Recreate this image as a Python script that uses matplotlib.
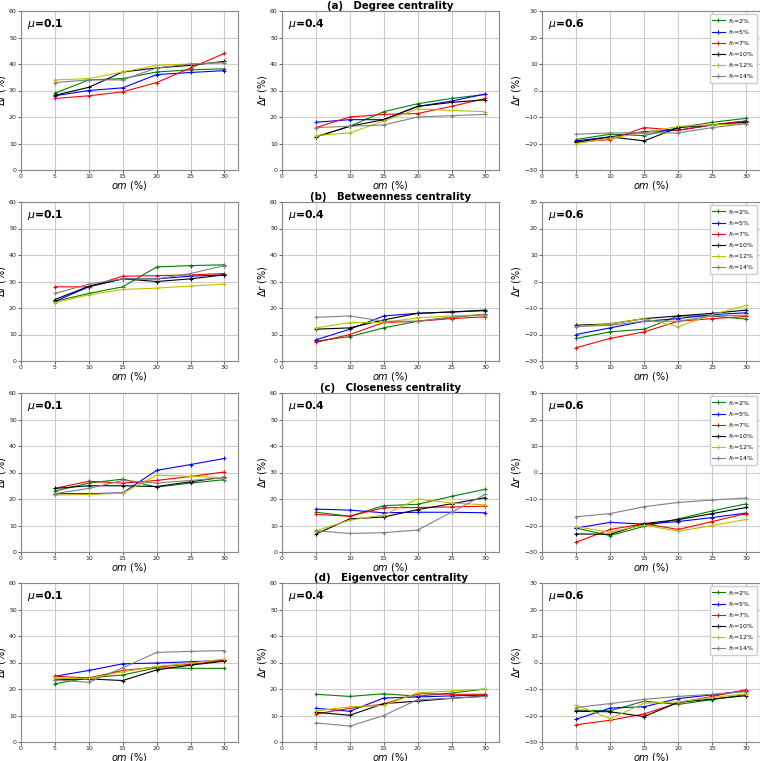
import matplotlib
matplotlib.use("Agg")
import matplotlib.pyplot as plt

om = [5, 10, 15, 20, 25, 30]
labels = [r"$f_0$=2%", r"$f_0$=5%", r"$f_0$=7%", r"$f_0$=10%", r"$f_0$=12%", r"$f_0$=14%"]
colors = ["green", "blue", "red", "black", "y", "gray"]
mus = ["0.1", "0.4", "0.6"]
titles = ["(a)   Degree centrality", "(b)   Betweenness centrality",
          "(c)   Closeness centrality", "(d)   Eigenvector centrality"]

# Degree centrality
deg_01 = [[29, 34, 34.5, 37, 37.8, 38.2],
          [28, 30, 31, 36, 36.8, 37.5],
          [27, 28, 29.5, 33, 38.5, 44],
          [28.2, 31.2, 37, 38.5, 39.5, 41],
          [34, 34.5, 37, 39.5, 40, 40.5],
          [33, 34, 34, 38.5, 40, 40.5]]
deg_04 = [[12.5, 16.5, 22, 25, 27, 28.5],
          [18, 19, 19, 24, 26, 28.7],
          [16, 20, 21, 21.3, 24, 27],
          [12.5, 16.5, 19, 24, 25.5, 26.5],
          [13, 14, 18.5, 23, 22.5, 22],
          [16, 16.5, 17, 20, 20.5, 21]]
deg_06 = [[-18.5, -16.5, -17, -14, -12, -10.5],
          [-19, -17.5, -15.5, -15, -13, -11.5],
          [-19.5, -18.5, -14, -15, -13, -11.5],
          [-19.5, -17.5, -19, -14, -13, -12],
          [-20, -18, -16, -13.5, -13, -12.5],
          [-16.5, -16, -16, -16, -14, -12.5]]
# Betweenness centrality
btw_01 = [[22.5, 25.5, 28, 35.5, 36, 36.3],
          [22.5, 28, 31, 31, 32, 32.5],
          [28, 28, 32, 32.2, 32.5, 33],
          [23.2, 28.2, 31, 30, 31, 32.5],
          [22, 25, 27, 27.5, 28.3, 29],
          [25.5, 29, 31, 31, 33, 36]]
btw_04 = [[7.5, 9.2, 12.5, 15, 16.5, 17.7],
          [8, 12, 17, 18, 18.5, 19],
          [7, 10, 14.5, 15, 16, 16.7],
          [12, 12.5, 15.5, 18, 18.5, 19.2],
          [12.5, 14.5, 14.5, 16.3, 17, 17.5],
          [16.5, 17, 15, 15, 16.5, 17.5]]
btw_06 = [[-21.5, -19, -18, -13, -13, -14.2],
          [-20, -17.5, -15, -14, -12.5, -11.8],
          [-25, -21.5, -19, -15, -14, -13.2],
          [-16.5, -16, -14, -13, -12, -10.8],
          [-17, -16, -14, -17, -12.5, -9],
          [-17, -16.5, -15, -15, -13, -12.7]]
# Closeness centrality
clo_01 = [[23, 26, 27.5, 24.5, 26, 27.3],
          [22, 22, 22.3, 30.8, 33, 35.3],
          [24, 26.7, 26, 27, 28.5, 30.2],
          [24, 25, 25, 24.7, 26.5, 28.3],
          [21.5, 21.7, 22.2, 29, 28.6, 28],
          [22, 24, 27, 26, 27, 28]]
clo_04 = [[15, 13.5, 17.5, 18, 21, 23.7],
          [16.2, 15.8, 14.8, 15, 15, 14.8],
          [14.2, 13.5, 16.7, 16.8, 17, 17.3],
          [6.8, 12.5, 13.2, 16, 18.2, 20.5],
          [8, 12, 14, 20, 18.5, 17.8],
          [8, 7, 7.3, 8.3, 15, 21.8]]
clo_06 = [[-21, -23.8, -20.3, -17.5, -14.5, -11.8],
          [-21, -18.8, -19.5, -18.5, -17, -15.3],
          [-26.3, -21.5, -19.3, -21.5, -18.5, -15.5],
          [-23.2, -23.3, -19.3, -17.8, -15.5, -13.2],
          [-20.5, -22.5, -19.8, -22.2, -20, -17.7],
          [-16.7, -15.5, -12.9, -11.3, -10.4, -9.6]]
# Eigenvector centrality
eig_01 = [[22, 24.2, 25.3, 28, 27.8, 27.8],
          [24.8, 27, 29.5, 29.8, 30.3, 30.8],
          [24.8, 24.2, 27, 28.3, 29.3, 30.8],
          [23.5, 23.8, 23.2, 27.2, 29, 30.5],
          [24, 24, 26.5, 28.5, 29.8, 31.3],
          [23.5, 22.5, 28, 33.8, 34.2, 34.5]]
eig_04 = [[18, 17.2, 18.2, 17.3, 18.5, 20],
          [12.7, 11.6, 16.6, 17, 17.4, 17.7],
          [10.6, 12.7, 14.3, 18.3, 18, 18],
          [11.2, 10.1, 14.5, 15.4, 16.5, 17.3],
          [11.7, 13.3, 13.8, 18.5, 19.3, 20],
          [7.2, 6, 10, 16, 16.5, 17.2]]
eig_06 = [[-18, -18.2, -14.6, -15.8, -14, -12],
          [-21.4, -17.2, -16.7, -13.6, -12.2, -10.6],
          [-23.5, -21.8, -19.4, -15.2, -12.8, -10.3],
          [-18.4, -18.6, -20.4, -15, -13.8, -12.5],
          [-16, -21.2, -15.4, -14.9, -13.2, -11.8],
          [-17, -15.5, -13.9, -12.8, -12, -11]]

data = [[deg_01, deg_04, deg_06],
        [btw_01, btw_04, btw_06],
        [clo_01, clo_04, clo_06],
        [eig_01, eig_04, eig_06]]

W, H = 760, 761
fig = plt.figure(figsize=(W / 100, H / 100), dpi=100)
lefts = [21, 282, 542]
widths = [217, 217, 218]
tops = [11, 202, 393, 583]
ah = 159

for r in range(4):
    for c in range(3):
        ax = fig.add_axes([lefts[c] / W, 1 - (tops[r] + ah) / H, widths[c] / W, ah / H])
        for k in range(6):
            ax.plot(om, data[r][c][k], color=colors[k], marker="+", markersize=3,
                    linewidth=0.8, markeredgewidth=0.8, label=labels[k])
        ax.set_xlim(0, 32)
        ax.set_xticks([0, 5, 10, 15, 20, 25, 30])
        if c < 2:
            ax.set_ylim(0, 60)
            ax.set_yticks(range(0, 61, 10))
        else:
            ax.set_ylim(-30, 30)
            ax.set_yticks(range(-30, 31, 10))
        ax.grid(True, color="#cccccc", linewidth=0.8)
        ax.set_axisbelow(True)
        ax.tick_params(labelsize=4.5, length=2, width=0.5, pad=1, colors="#222222")
        for s in ax.spines.values():
            s.set_color("#888888")
            s.set_linewidth(0.8)
        ax.set_xlabel(r"$om$ (%)", fontsize=7, labelpad=0)
        ax.set_ylabel(r"$\Delta r$ (%)", fontsize=7, labelpad=1)
        ax.text(0.026, 0.965, r"$\mu$=" + mus[c], transform=ax.transAxes, fontsize=7.8,
                fontweight="bold", va="top", ha="left")
        if c == 1:
            ax.set_title(titles[r], fontsize=7.3, fontweight="bold", pad=1)
        if c == 2:
            ax.legend(loc="upper right", fontsize=4.5, handlelength=2, markerscale=0.8,
                      borderpad=0.4, labelspacing=0.35, handletextpad=0.6,
                      framealpha=1)

fig.savefig("out.png", dpi=100)
